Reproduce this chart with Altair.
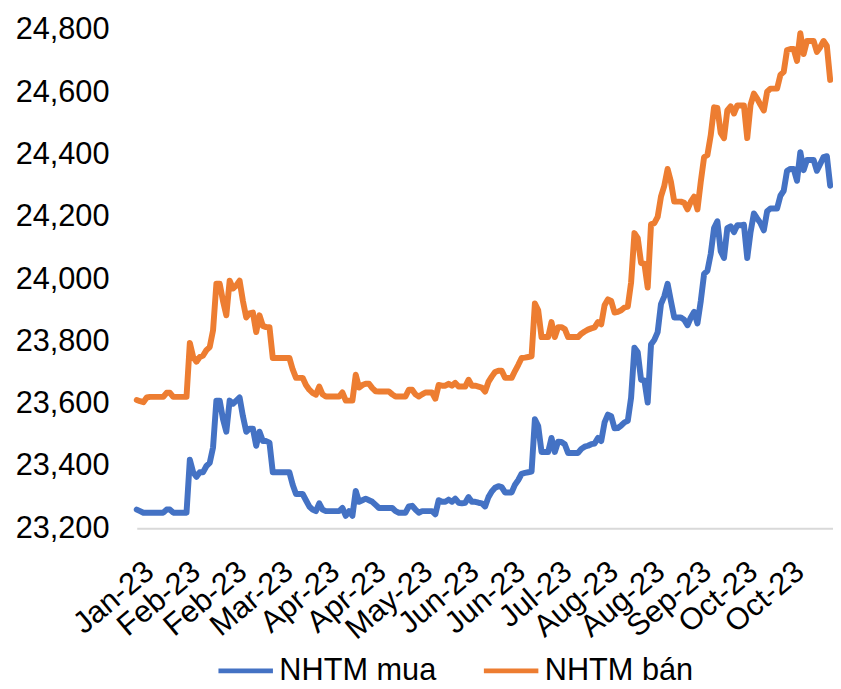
import altair as alt
import pandas as pd

series_names = ["NHTM mua", "NHTM bán"]
series_colors = ["#4472C4", "#ED7D31"]

mua = [
    23260, 23255, 23250, 23250, 23250, 23250, 23250, 23250, 23250, 23260,
    23260, 23250, 23250, 23250, 23250, 23250, 23420, 23380, 23365, 23380,
    23380, 23400, 23410, 23460, 23610, 23610, 23550, 23510, 23610, 23600,
    23610, 23620, 23560, 23510, 23520, 23520, 23465, 23510, 23480, 23480,
    23475, 23380, 23380, 23380, 23380, 23380, 23380, 23340, 23310, 23310,
    23310, 23290, 23270, 23260, 23255, 23280, 23260, 23255, 23255, 23255,
    23255, 23255, 23265, 23240, 23255, 23240, 23320, 23285, 23290, 23295,
    23290, 23285, 23275, 23265, 23265, 23265, 23265, 23265, 23255, 23250,
    23250, 23250, 23270, 23272, 23260, 23250, 23255, 23255, 23255, 23255,
    23245, 23290, 23285, 23285, 23292, 23285, 23295, 23282, 23280, 23282,
    23300, 23285, 23285, 23282, 23280, 23270, 23300, 23318, 23330, 23335,
    23332, 23315, 23315, 23315, 23340, 23355, 23375, 23378, 23380, 23382,
    23550, 23528, 23445, 23445, 23445, 23490, 23445, 23478, 23477, 23470,
    23442, 23442, 23442, 23442, 23455, 23462, 23465, 23470, 23472, 23490,
    23480, 23540, 23565, 23560, 23521, 23522, 23530, 23540, 23545, 23620,
    23780, 23765, 23677, 23675, 23604, 23790, 23805, 23830, 23920, 23945,
    23985, 23930, 23877, 23877, 23877, 23870, 23852, 23877, 23895, 23858,
    23930, 24017, 24027, 24081, 24164, 24186, 24090, 24068, 24164, 24170,
    24151, 24173, 24173, 24175, 24068, 24151, 24211, 24195, 24180, 24157,
    24218, 24227, 24227, 24227, 24268, 24284, 24348, 24354, 24354, 24316,
    24408, 24350, 24383, 24383, 24383, 24348, 24370, 24392, 24395, 24300,
]

ban = [
    23612, 23608, 23605, 23620, 23622, 23622, 23622, 23622, 23622, 23635,
    23635, 23622, 23622, 23622, 23622, 23622, 23795, 23750, 23735, 23750,
    23755, 23772, 23782, 23836, 23985, 23985, 23930, 23884, 23995, 23970,
    23980, 23995, 23930, 23877, 23890, 23893, 23830, 23884, 23850, 23846,
    23846, 23747, 23747, 23747, 23747, 23747, 23747, 23710, 23683, 23683,
    23683, 23660, 23645, 23635, 23629, 23655, 23630, 23623, 23623, 23623,
    23623, 23623, 23636, 23610, 23610, 23610, 23693, 23652, 23660, 23664,
    23664, 23650, 23640, 23639, 23639, 23639, 23639, 23630, 23623, 23623,
    23623, 23623, 23645, 23645, 23630, 23623, 23630, 23636, 23636, 23636,
    23616, 23660, 23658, 23658, 23664, 23658, 23667, 23655, 23655, 23655,
    23677, 23658, 23658, 23655, 23652, 23639, 23670, 23687, 23702, 23706,
    23706, 23683, 23683, 23683, 23705, 23725, 23747, 23748, 23750, 23752,
    23922, 23900, 23814, 23814, 23814, 23862, 23814, 23846, 23846, 23840,
    23814, 23814, 23814, 23814, 23825, 23832, 23838, 23842, 23845, 23862,
    23855, 23916, 23935, 23930, 23893, 23895, 23900, 23909, 23912, 23990,
    24148, 24132, 24052, 24050, 23973, 24176, 24180, 24200, 24265, 24300,
    24354, 24313, 24249, 24249, 24249, 24245, 24224, 24249, 24265, 24224,
    24313, 24392, 24399, 24462, 24552, 24550, 24470, 24453, 24542, 24555,
    24532, 24558, 24558, 24558, 24453, 24560, 24596, 24580, 24560, 24542,
    24602, 24612, 24612, 24612, 24656, 24666, 24736, 24739, 24739, 24701,
    24790, 24723, 24765, 24765, 24765, 24730, 24745, 24765, 24749, 24640,
]

tick_labels = ["Jan-23", "Feb-23", "Feb-23", "Mar-23", "Apr-23", "Apr-23", "May-23",
               "Jun-23", "Jun-23", "Jul-23", "Aug-23", "Aug-23", "Sep-23", "Oct-23", "Oct-23"]
tick_index = [1, 15, 29, 43, 57, 71, 85, 99, 113, 127, 141, 155, 169, 183, 197]
y_ticks = [23200, 23400, 23600, 23800, 24000, 24200, 24400, 24600, 24800]

rows = []
for i, (a, b) in enumerate(zip(mua, ban)):
    rows.append({"idx": i, "value": a, "series": series_names[0]})
    rows.append({"idx": i, "value": b, "series": series_names[1]})
df = pd.DataFrame(rows)

FONT = "Liberation Sans"
lab_arr = "[" + ",".join("'" + s + "'" for s in tick_labels) + "]"
label_expr = lab_arr + "[round((datum.value - 1) / 14)]"

chart = alt.Chart(df).mark_line(
    strokeWidth=6, strokeJoin="round", strokeCap="round"
).encode(
    x=alt.X(
        "idx:Q",
        scale=alt.Scale(domain=[0, 209.85], nice=False, zero=False),
        axis=alt.Axis(
            values=tick_index, labelExpr=label_expr, title=None, grid=False,
            ticks=False, tickSize=0, domain=True, domainColor="#d9d9d9", domainWidth=2,
            labelAngle=-40, labelAlign="right", labelBaseline="top", labelPadding=28,
            labelFontSize=31, labelFont=FONT, labelColor="black",
            labelOverlap=False, labelBound=False, labelFlush=False,
        ),
    ),
    y=alt.Y(
        "value:Q",
        scale=alt.Scale(domain=[23200, 24800], nice=False, zero=False),
        axis=alt.Axis(
            values=y_ticks, format=",d", title=None, grid=False, ticks=False,
            tickSize=0, domain=False, labelFontSize=31, labelFont=FONT,
            labelColor="black", labelPadding=28, labelOverlap=False,
        ),
    ),
    color=alt.Color(
        "series:N",
        scale=alt.Scale(domain=series_names, range=series_colors),
        legend=alt.Legend(
            title=None, orient="none", legendX=80, legendY=617, direction="horizontal",
            symbolType="stroke", symbolSize=3025, symbolStrokeWidth=5,
            labelFontSize=31, labelFont=FONT, labelColor="black", labelOffset=4,
            columnPadding=37, labelLimit=400,
        ),
    ),
).properties(
    width=703,
    height=503,
    autosize=alt.AutoSizeParams(type="none"),
    padding={"left": 130, "top": 19, "right": 0, "bottom": 159},
).configure_view(stroke=None)

chart.save("out.html", embed_options={"renderer": "svg", "actions": False})
